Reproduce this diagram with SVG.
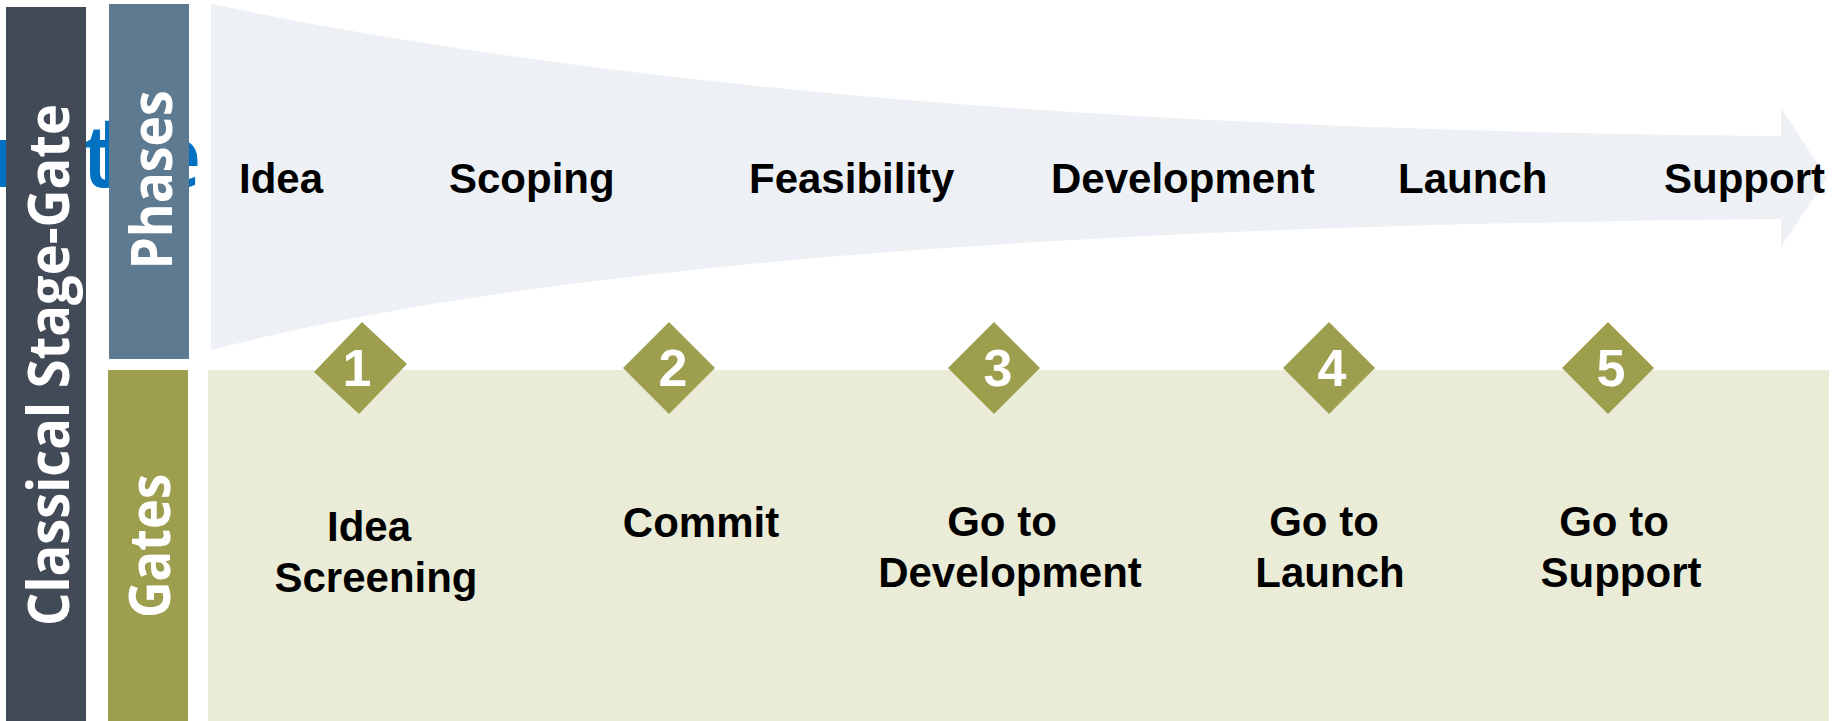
<svg xmlns="http://www.w3.org/2000/svg" width="1832" height="721" viewBox="0 0 1832 721">
  <style>
    .side { font-family: "Open Sans", "Noto Sans", sans-serif; font-weight: 700; font-size: 58px; fill: #ffffff; }
    .lbl { font-family: "Liberation Sans", Arial, sans-serif; font-weight: 700; font-size: 42px; fill: #000000; }
    .num { font-family: "Liberation Sans", Arial, sans-serif; font-weight: 700; font-size: 52px; fill: #ffffff; text-anchor: middle; }
    .gate { fill: #9E9F4E; }
    .mid { text-anchor: middle; }
  </style>
  <rect width="1832" height="721" fill="#ffffff"/>
  <text x="-8 27 82 98 152" y="187" font-family="Open Sans, sans-serif" font-weight="600" font-size="86" fill="#0070C0">r the</text>

  <g id="classical-stage-gate">
    <rect x="6" y="7" width="80" height="714" fill="#434A57"/>
    <text class="side" transform="translate(69,365) rotate(-90)" text-anchor="middle" textLength="522" lengthAdjust="spacingAndGlyphs">Classical Stage-Gate</text>
  </g>
  <g id="phases-label">
    <rect x="109" y="4" width="80" height="355" fill="#5E7A90"/>
    <text class="side" transform="translate(172,180) rotate(-90)" text-anchor="middle" textLength="179" lengthAdjust="spacingAndGlyphs">Phases</text>
  </g>
  <g id="gates-label">
    <rect x="108" y="370" width="80" height="351" fill="#9E9F4E"/>
    <text class="side" transform="translate(170,546) rotate(-90)" text-anchor="middle" textLength="144" lengthAdjust="spacingAndGlyphs">Gates</text>
  </g>

  <g id="gates-band">
    <rect x="208" y="370" width="1621" height="351" fill="#EAECD8"/>
  </g>

  <g id="phase-arrow">
    <path d="M211,4 C600,85 1100,130 1781,136 L1781,108 L1827,178 L1781,247 L1781,219 C1100,225 550,262 211,350 Z" fill="#EDF1F5"/>
  </g>

  <g id="phases">
    <text id="phase-idea" class="lbl" x="239" y="193">Idea</text>
    <text id="phase-scoping" class="lbl" x="449" y="193">Scoping</text>
    <text id="phase-feasibility" class="lbl" x="749" y="193">Feasibility</text>
    <text id="phase-development" class="lbl" x="1051" y="193">Development</text>
    <text id="phase-launch" class="lbl" x="1398" y="193">Launch</text>
    <text id="phase-support" class="lbl" x="1664" y="193">Support</text>
  </g>

  <g id="connectors"></g>

  <g id="gate-1">
    <polygon class="gate" points="362,322 407,364 359,414 314,372"/>
    <text class="num" x="357" y="386">1</text>
    <text class="lbl mid" x="369" y="541">Idea</text>
    <text class="lbl mid" x="376" y="592">Screening</text>
  </g>
  <g id="gate-2">
    <polygon class="gate" points="669,322 715,368 669,414 623,368"/>
    <text class="num" x="673" y="386">2</text>
    <text class="lbl mid" x="701" y="537">Commit</text>
  </g>
  <g id="gate-3">
    <polygon class="gate" points="994,322 1040,368 994,414 948,368"/>
    <text class="num" x="998" y="386">3</text>
    <text class="lbl mid" x="1002" y="536">Go to</text>
    <text class="lbl mid" x="1010" y="587">Development</text>
  </g>
  <g id="gate-4">
    <polygon class="gate" points="1329,322 1375,368 1329,414 1283,368"/>
    <text class="num" x="1332" y="386">4</text>
    <text class="lbl mid" x="1324" y="536">Go to</text>
    <text class="lbl mid" x="1330" y="587">Launch</text>
  </g>
  <g id="gate-5">
    <polygon class="gate" points="1608,322 1654,368 1608,414 1562,368"/>
    <text class="num" x="1611" y="386">5</text>
    <text class="lbl mid" x="1614" y="536">Go to</text>
    <text class="lbl mid" x="1621" y="587">Support</text>
  </g>
</svg>
